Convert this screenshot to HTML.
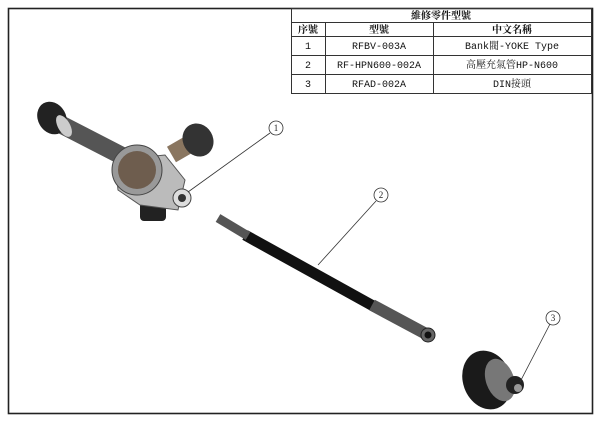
<!DOCTYPE html>
<html><head><meta charset="utf-8"><style>
body{margin:0;background:#fff;width:600px;height:423px;overflow:hidden;position:relative;}
</style></head><body>
<svg width="600" height="423" style="position:absolute;left:0;top:0">
<rect x="8.5" y="8.5" width="584" height="405" fill="none" stroke="#222" stroke-width="1.6"/>
<g stroke="#333" stroke-width="1" fill="none">
<rect x="291.5" y="8.5" width="300" height="85"/>
<line x1="291.5" y1="22.5" x2="591.5" y2="22.5"/>
<line x1="291.5" y1="36.5" x2="591.5" y2="36.5"/>
<line x1="291.5" y1="55.5" x2="591.5" y2="55.5"/>
<line x1="291.5" y1="74.5" x2="591.5" y2="74.5"/>
<line x1="325.5" y1="22.5" x2="325.5" y2="93.5"/>
<line x1="433.5" y1="22.5" x2="433.5" y2="93.5"/>
</g>
<g font-size="10" fill="#111" text-anchor="middle" font-family="Liberation Mono,Noto Serif CJK TC,monospace">
<text x="441" y="19" font-weight="bold" font-family="Noto Serif CJK TC,serif">維修零件型號</text>
<text x="308" y="33" font-weight="bold" font-family="Noto Serif CJK TC,serif">序號</text>
<text x="379" y="33" font-weight="bold" font-family="Noto Serif CJK TC,serif">型號</text>
<text x="512" y="33" font-weight="bold" font-family="Noto Serif CJK TC,serif">中文名稱</text>
<text x="308" y="49">1</text><text x="379" y="49">RFBV-003A</text><text x="512" y="49">Bank閥-YOKE Type</text>
<text x="308" y="68">2</text><text x="379" y="68">RF-HPN600-002A</text><text x="512" y="68">高壓充氣管HP-N600</text>
<text x="308" y="87">3</text><text x="379" y="87">RFAD-002A</text><text x="512" y="87">DIN接頭</text>
</g>
<g>
<line x1="62" y1="125" x2="130" y2="160" stroke="#555" stroke-width="18" stroke-linecap="round"/>
<ellipse cx="52" cy="118" rx="14" ry="17" fill="#222" transform="rotate(-30 52 118)"/>
<ellipse cx="64" cy="126" rx="6" ry="12" fill="#ccc" transform="rotate(-30 64 126)"/>
<rect x="170" y="140" width="22" height="18" fill="#8a7660" transform="rotate(-30 181 149)"/>
<ellipse cx="198" cy="140" rx="15" ry="17" fill="#333" transform="rotate(-30 198 140)"/>
<rect x="140" y="195" width="26" height="26" rx="4" fill="#222"/>
<path d="M115 160 L165 155 L185 180 L178 210 L140 205 L118 190Z" fill="#bbb" stroke="#555"/>
<circle cx="137" cy="170" r="25" fill="#999" stroke="#444"/>
<circle cx="137" cy="170" r="19" fill="#6e5d4e"/>
<circle cx="182" cy="198" r="9" fill="#ddd" stroke="#444"/>
<circle cx="182" cy="198" r="4" fill="#333"/>
</g>
<line x1="245" y1="235" x2="375" y2="307" stroke="#111" stroke-width="11"/>
<line x1="218" y1="218" x2="248" y2="236" stroke="#555" stroke-width="9"/>
<line x1="372" y1="305" x2="428" y2="335" stroke="#555" stroke-width="12"/>
<circle cx="428" cy="335" r="7" fill="#666" stroke="#222"/>
<circle cx="428" cy="335" r="3.5" fill="#111"/>
<ellipse cx="487" cy="380" rx="24" ry="30" fill="#1a1a1a" transform="rotate(-20 487 380)"/>
<ellipse cx="500" cy="380" rx="14" ry="22" fill="#777" transform="rotate(-20 500 380)"/>
<circle cx="515" cy="385" r="9" fill="#222"/>
<circle cx="518" cy="388" r="4" fill="#999"/>
<g stroke="#333" stroke-width="0.8" fill="#fff">
<line x1="270" y1="133" x2="188" y2="192"/>
<circle cx="276" cy="128" r="7"/>
<line x1="376" y1="201" x2="318" y2="265"/>
<circle cx="381" cy="195" r="7"/>
<line x1="550" y1="324" x2="520" y2="382"/>
<circle cx="553" cy="318" r="7"/>
</g>
<g font-size="9" font-family="Liberation Serif,serif" fill="#222" text-anchor="middle">
<text x="276" y="131">1</text><text x="381" y="198">2</text><text x="553" y="321">3</text>
</g>
</svg>
</body></html>
